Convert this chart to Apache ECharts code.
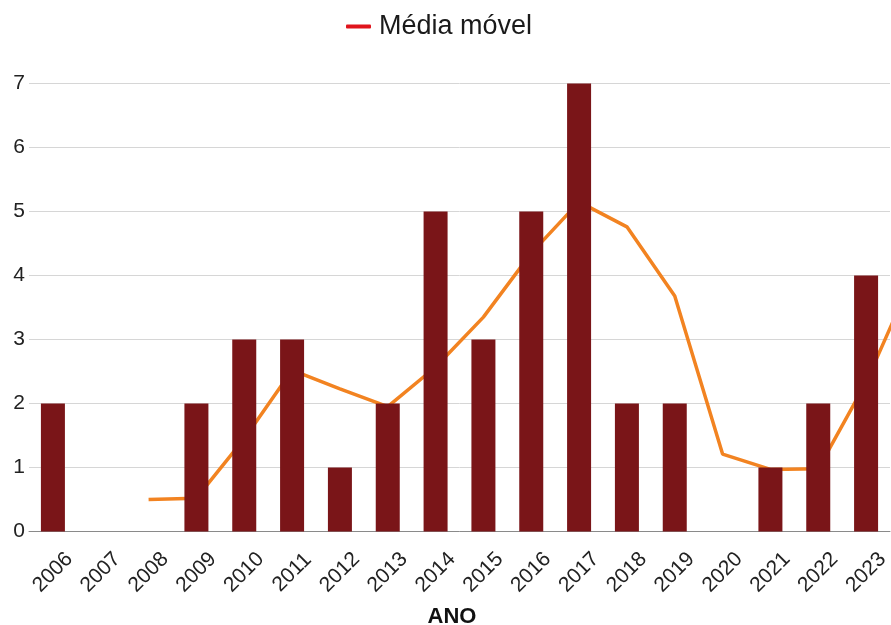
<!DOCTYPE html>
<html>
<head>
<meta charset="utf-8">
<script src="https://cdn.jsdelivr.net/npm/echarts@6/dist/echarts.min.js"></script>
<style>
html,body{margin:0;padding:0;background:#fff;}
#chart{width:891px;height:625px;}
</style>
</head>
<body>
<div id="chart"></div>
<script>
const years = ['2006','2007','2008','2009','2010','2011','2012','2013','2014','2015','2016','2017','2018','2019','2020','2021','2022','2023'];
const counts = [2,0,0,2,3,3,1,2,5,3,5,7,2,2,0,1,2,4];
const maYears = [2008,2009,2010,2011,2012,2013,2014,2015,2016,2017,2018,2019,2020,2021,2022,2023,2024];
const maValues = [0.5,0.52,1.45,2.52,2.23,1.95,2.57,3.35,4.35,5.15,4.76,3.68,1.21,0.97,0.98,2.33,4.02];
const yTicks = [0,1,2,3,4,5,6,7];

const chart = echarts.init(document.getElementById('chart'), null, {renderer:'canvas'});
const font = '"Liberation Sans", Arial, sans-serif';
chart.setOption({
  animation: false,
  backgroundColor: '#ffffff',
  legend: {
    left: 341, top: 8,
    icon: 'roundRect',
    itemWidth: 25, itemHeight: 4, itemGap: 13,
    textStyle: {fontFamily: font, fontSize: 27, color: '#1a1a1a', padding: [0, 0, 0, 3]},
    data: [{name: 'Média móvel', itemStyle: {color: '#e0141c'}}]
  },
  grid: {left: 29, right: 1, top: 83.5, bottom: 93.5, containLabel: false, outerBoundsMode: 'none'},
  xAxis: [{
    type: 'category',
    data: years,
    axisLine: {show: true, lineStyle: {color: '#8a8a8a', width: 1}},
    axisTick: {show: false},
    axisLabel: {
      rotate: 45, align: 'center', verticalAlign: 'middle', margin: 41,
      fontFamily: font, fontSize: 21, color: '#222', interval: 0
    },
    name: 'ANO', nameLocation: 'middle', nameGap: 74, nameMoveOverlap: false,
    nameTextStyle: {fontFamily: font, fontSize: 22, fontWeight: 'bold', color: '#111', padding: [0, 15, 0, 0]}
  }, {
    type: 'value',
    min: 2005.5, max: 2023.5,
    show: false
  }],
  yAxis: {
    type: 'value', min: yTicks[0], max: yTicks[yTicks.length-1], interval: 1,
    axisLine: {show: false}, axisTick: {show: false},
    axisLabel: {fontFamily: font, fontSize: 21, color: '#222', margin: 4},
    splitLine: {lineStyle: {color: '#d6d6d6', width: 1}}
  },
  series: [{
    name: 'Média móvel',
    type: 'line',
    xAxisIndex: 1,
    data: maYears.map((y, i) => [y, maValues[i]]),
    showSymbol: false,
    symbol: 'none',
    clip: true,
    lineStyle: {color: '#f28321', width: 3.5},
    itemStyle: {color: '#f28321'},
    z: 1
  }, {
    name: 'Casos',
    type: 'bar',
    data: counts,
    barWidth: 24,
    itemStyle: {color: '#7a1518'},
    z: 3
  }]
});
</script>
</body>
</html>
